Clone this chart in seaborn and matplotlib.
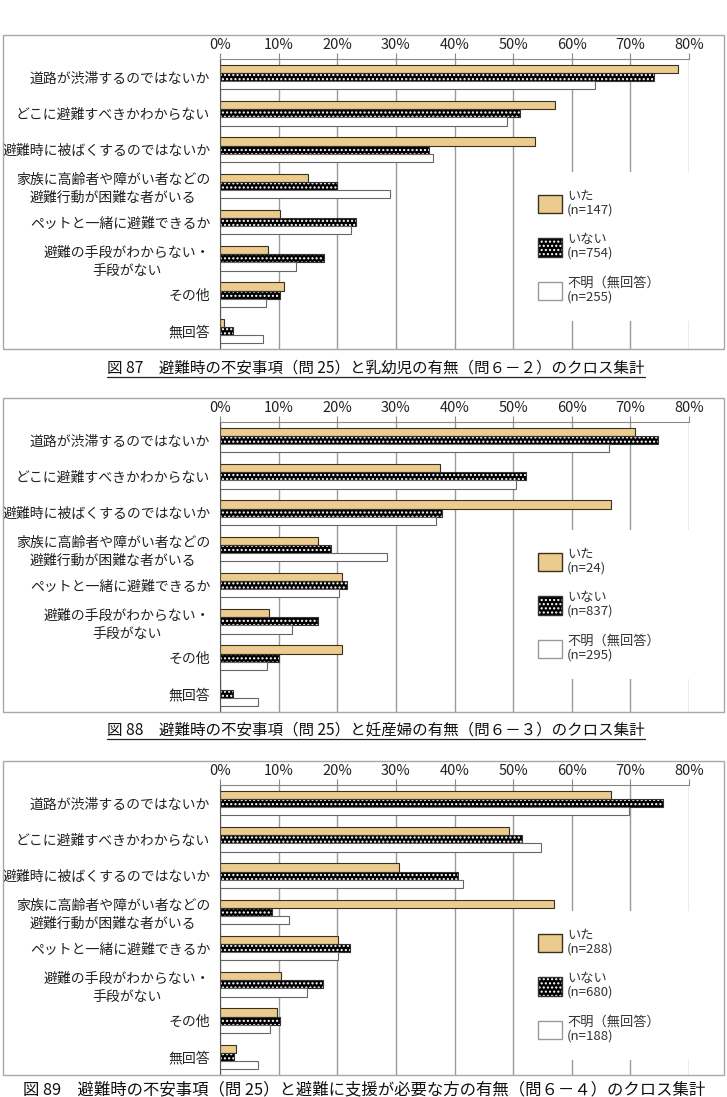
import numpy as np
import pandas as pd
import seaborn as sns
import matplotlib.pyplot as plt
from matplotlib.patches import Rectangle, Patch
from matplotlib.lines import Line2D

# 選択肢
items = ["道路が渋滞するのではないか", "どこに避難すべきかわからない",
         "避難時に被ばくするのではないか",
         "家族に高齢者や障がい者などの\n避難行動が困難な者がいる",
         "ペットと一緒に避難できるか",
         "避難の手段がわからない・\n手段がない", "その他", "無回答"]
groups = ["いた", "いない", "不明（無回答）"]

# 図87 乳幼児の有無
p1_n = [147, 754, 255]
p1_ita = [78.2, 57.1, 53.7, 15.0, 10.2, 8.2, 10.9, 0.7]
p1_inai = [74.1, 51.2, 35.7, 20.0, 23.2, 17.7, 10.3, 2.3]
p1_fumei = [63.9, 49.0, 36.4, 29.0, 22.4, 12.9, 7.8, 7.4]

# 図88 妊産婦の有無
p2_n = [24, 837, 295]
p2_ita = [70.8, 37.5, 66.7, 16.7, 20.8, 8.3, 20.8, 0.0]
p2_inai = [74.7, 52.2, 37.9, 19.0, 21.6, 16.7, 10.1, 2.2]
p2_fumei = [66.4, 50.5, 36.9, 28.5, 20.3, 12.2, 8.1, 6.4]

# 図89 避難に支援が必要な方の有無
p3_n = [288, 680, 188]
p3_ita = [66.7, 49.3, 30.6, 56.9, 20.1, 10.4, 9.7, 2.8]
p3_inai = [75.6, 51.5, 40.6, 8.8, 22.2, 17.5, 10.3, 2.4]
p3_fumei = [69.7, 54.8, 41.5, 11.7, 20.2, 14.9, 8.5, 6.4]

captions = ["図 87　避難時の不安事項（問 25）と乳幼児の有無（問６－２）のクロス集計",
            "図 88　避難時の不安事項（問 25）と妊産婦の有無（問６－３）のクロス集計",
            "図 89　避難時の不安事項（問 25）と避難に支援が必要な方の有無（問６－４）のクロス集計"]

sns.set_style("white")
plt.rcParams['font.family'] = ['Noto Sans CJK JP', 'DejaVu Sans']

W, H = 727, 1097
fig = plt.figure(figsize=(W / 100, H / 100), dpi=100)

tan = "#EBCB8E"
styles = [dict(fc=tan, ec="#3a3020", hatch=None, hc=None),
          dict(fc="black", ec="#333333", hatch="....", hc="white"),
          dict(fc="white", ec="#666666", hatch=None, hc=None)]


def style_patch(p, st):
    p.set_facecolor(st["fc"])
    p.set_edgecolor(st["ec"])
    p.set_linewidth(0.8)
    if st["hatch"]:
        p.set_hatch(st["hatch"])
        p._hatch_color = plt.matplotlib.colors.to_rgba(st["hc"])


panels = [(p1_ita, p1_inai, p1_fumei, p1_n, 35, 156),
          (p2_ita, p2_inai, p2_fumei, p2_n, 398, 151),
          (p3_ita, p3_inai, p3_fumei, p3_n, 761, 169)]

# キャプション位置 (x中心, y中心, 文字サイズ)
cap_pos = [(376, 368, 11.2), (376, 730, 11.2), (364, 1090, 11.8)]

for k, (a, b, c, n, top, leg_off) in enumerate(panels):
    # 外枠
    fig.add_artist(Rectangle((3 / W, 1 - (top + 314) / H), 721 / W, 314 / H,
                             transform=fig.transFigure, fill=False,
                             ec="#a8a8a8", lw=1))
    ax = fig.add_axes([220 / W, 1 - (top + 314) / H, 469 / W, 290 / H])

    df = pd.DataFrame({
        "item": items * 3,
        "pct": a + b + c,
        "group": [groups[0]] * 8 + [groups[1]] * 8 + [groups[2]] * 8,
    })
    sns.barplot(data=df, y="item", x="pct", hue="group", hue_order=groups,
                orient="h", width=0.68, saturation=1, legend=False, ax=ax,
                palette=[tan, "black", "white"], errorbar=None)
    for cont, st in zip(ax.containers, styles):
        for p in cont.patches:
            style_patch(p, st)

    ax.set_xlim(0, 80)
    ax.set_ylim(7.5, -0.5)
    ax.set_xlabel("")
    ax.set_ylabel("")
    ax.xaxis.tick_top()
    ax.set_xticks(np.arange(0, 81, 10))
    ax.set_xticklabels([f"{v}%" for v in range(0, 81, 10)], fontsize=10.5)
    ax.tick_params(axis="x", length=4, color="#888888", pad=1,
                   labelcolor="#222222")
    ax.set_yticks(np.arange(-0.5, 8, 1), minor=True)
    ax.tick_params(axis="y", which="major", length=0, pad=7, labelsize=10,
                   labelcolor="#222222")
    ax.tick_params(axis="y", which="minor", length=4, color="#888888")
    for lab in ax.get_yticklabels():
        lab.set_multialignment("center")
        lab.set_linespacing(1.35)
    ax.grid(axis="x", color="#9a9a9a", lw=1)
    ax.set_axisbelow(True)
    for s in ["right", "bottom"]:
        ax.spines[s].set_visible(False)
    ax.spines["top"].set_color("#888888")
    ax.spines["left"].set_color("#555555")

    handles = [Patch() for _ in range(3)]
    for h, st in zip(handles, styles):
        style_patch(h, st)
        h.set_linewidth(1.0)
        if st["fc"] == "white":
            h.set_edgecolor("#999999")
    labels = [f"{g}\n(n={m})" for g, m in zip(groups, n)]
    y0 = 1 - (leg_off - 24 - 19) / 290
    leg = ax.legend(handles, labels, loc="upper left",
                    bbox_to_anchor=(0.64, y0, 0.40, 0.0), mode="expand",
                    frameon=True, facecolor="white", edgecolor="none",
                    framealpha=1, fontsize=9.5, handlelength=1.85,
                    handleheight=1.75, handletextpad=0.35, labelspacing=1.3,
                    borderpad=1.35, borderaxespad=0, fancybox=False)
    for t in leg.get_texts():
        t.set_color("#333333")
        t.set_linespacing(1.05)

    cx, cy, fs = cap_pos[k]
    cap = fig.text(cx / W, 1 - cy / H, captions[k], ha="center",
                   va="center", fontsize=fs, color="#111111")
    if k < 2:
        fig.canvas.draw()
        bb = cap.get_window_extent().transformed(fig.transFigure.inverted())
        fig.add_artist(Line2D([bb.x0, bb.x1], [bb.y0 - 0.5 / H] * 2,
                              transform=fig.transFigure, color="#222222",
                              lw=0.9))

fig.savefig("out.png", dpi=100)
